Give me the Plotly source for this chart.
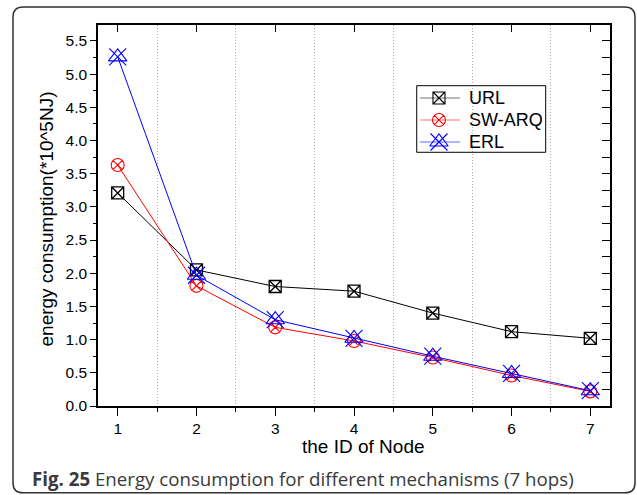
import plotly.graph_objects as go

# Energy consumption per node (units of 10^5 nJ)
node_ids = [1, 2, 3, 4, 5, 6, 7]
url_energy = [3.21, 2.05, 1.80, 1.73, 1.40, 1.12, 1.02]
swarq_energy = [3.63, 1.81, 1.185, 0.98, 0.73, 0.46, 0.22]
erl_energy = [5.26, 1.97, 1.30, 1.02, 0.75, 0.49, 0.23]
series_names = ["URL", "SW-ARQ", "ERL"]

x_range = [0.75, 7.25]
y_range = [0.0, 5.74]

BLACK = "#000000"
RED = "#ff0000"
BLUE = "#0000ff"
FONT = "Liberation Sans, Arial, sans-serif"

fig = go.Figure()

# data series
fig.add_trace(go.Scatter(
    x=node_ids, y=url_energy, mode="lines+markers", name=series_names[0],
    line=dict(color=BLACK, width=1),
    marker=dict(symbol="square-x-open", size=12, color=BLACK, line=dict(width=1.3)),
    cliponaxis=False, showlegend=False))
fig.add_trace(go.Scatter(
    x=node_ids, y=swarq_energy, mode="lines+markers", name=series_names[1],
    line=dict(color=RED, width=1),
    marker=dict(symbol="circle-x-open", size=13, color=RED, line=dict(width=1.1)),
    cliponaxis=False, showlegend=False))
fig.add_trace(go.Scatter(
    x=node_ids, y=erl_energy, mode="lines+markers", name=series_names[2],
    line=dict(color=BLUE, width=1),
    marker=dict(symbol="triangle-up-open", size=16, color=BLUE, line=dict(width=1.1)),
    cliponaxis=False, showlegend=False))
fig.add_trace(go.Scatter(
    x=node_ids, y=erl_energy, mode="markers", name=series_names[2],
    marker=dict(symbol="x-thin-open", size=17, color=BLUE, line=dict(width=1.1, color=BLUE)),
    cliponaxis=False, showlegend=False, hoverinfo="skip"))

# hand-drawn legend on a unit overlay axis
leg_rows = [0.8084, 0.7507, 0.6929]
leg_line = [0.6289, 0.707]
leg_mark_x = 0.666
leg_text_x = 0.720
leg_styles = [
    dict(color=BLACK, light="rgba(0,0,0,0.55)", symbols=[("square-x-open", 12)]),
    dict(color=RED, light="rgba(255,0,0,0.55)", symbols=[("circle-x-open", 13)]),
    dict(color=BLUE, light="rgba(0,0,255,0.6)", symbols=[("triangle-up-open", 16), ("x-thin-open", 17)]),
]
for name, yy, st in zip(series_names, leg_rows, leg_styles):
    fig.add_trace(go.Scatter(
        x=leg_line, y=[yy, yy], mode="lines", xaxis="x3", yaxis="y3",
        line=dict(color=st["light"], width=1.2), showlegend=False, hoverinfo="skip",
        cliponaxis=False))
    for sym, sz in st["symbols"]:
        fig.add_trace(go.Scatter(
            x=[leg_mark_x], y=[yy], mode="markers", xaxis="x3", yaxis="y3",
            marker=dict(symbol=sym, size=sz, color=st["color"],
                        line=dict(width=1.1, color=st["color"])),
            showlegend=False, hoverinfo="skip", cliponaxis=False))
    fig.add_annotation(x=leg_text_x, y=yy, xref="x3", yref="y3", text=name,
                       showarrow=False, xanchor="left", yanchor="middle",
                       font=dict(family=FONT, size=18, color=BLACK))

fig.add_shape(type="rect", xref="x3", yref="y3", x0=0.6225, x1=0.8744, y0=0.6659, y1=0.8407,
              line=dict(color=BLACK, width=1), fillcolor="rgba(0,0,0,0)", layer="above")

# outer rounded frame around figure and caption
fx0, fx1, fy0, fy1 = -0.166, 1.0488, -0.228, 1.047
rx, ry = 0.02, 0.026
frame_path = (
    f"M {fx0 + rx},{fy1} L {fx1 - rx},{fy1} Q {fx1},{fy1} {fx1},{fy1 - ry} "
    f"L {fx1},{fy0 + ry} Q {fx1},{fy0} {fx1 - rx},{fy0} "
    f"L {fx0 + rx},{fy0} Q {fx0},{fy0} {fx0},{fy0 + ry} "
    f"L {fx0},{fy1 - ry} Q {fx0},{fy1} {fx0 + rx},{fy1} Z"
)
fig.add_shape(type="path", xref="paper", yref="paper", path=frame_path,
              line=dict(color="#333333", width=1.5))

# axis titles
fig.add_annotation(x=(363.5 - 98) / 512, y=(406 - 446) / 381, xref="paper", yref="paper",
                   text="the ID of Node", showarrow=False, xanchor="center", yanchor="middle",
                   font=dict(family=FONT, size=19, color=BLACK))
fig.add_annotation(x=(46 - 98) / 512, y=(406 - 219.5) / 381, xref="paper", yref="paper",
                   text="energy consumption(*10^5NJ)", textangle=-90, showarrow=False,
                   xanchor="center", yanchor="middle",
                   font=dict(family=FONT, size=19, color=BLACK))

# caption
fig.add_annotation(x=(30 - 98) / 512, y=(406 - 478) / 381, xref="paper", yref="paper",
                   text="<b>Fig. 25</b> Energy consumption for different mechanisms (7 hops)",
                   showarrow=False, xanchor="left", yanchor="middle",
                   font=dict(family="Open Sans, sans-serif", size=18.7, color="#3a3a3a"))

fig.update_layout(
    width=637, height=495,
    margin=dict(l=98, r=27, t=25, b=89),
    paper_bgcolor="white", plot_bgcolor="white",
    showlegend=False,
    font=dict(family=FONT, size=15.5, color=BLACK),
    xaxis=dict(
        range=x_range, tick0=1, dtick=1, ticks="outside", ticklen=8, tickwidth=1.3,
        tickcolor=BLACK, showline=True, linecolor=BLACK, linewidth=1.5,
        showgrid=False, zeroline=False, tickfont=dict(family=FONT, size=15.5),
        automargin=False,
        minor=dict(dtick=0.5, ticks="outside", ticklen=4, tickwidth=1.3, tickcolor=BLACK,
                   showgrid=True, gridcolor="#b0b0b0", griddash="1px,2px", gridwidth=1),
    ),
    yaxis=dict(
        range=y_range, tick0=0, dtick=0.5, ticks="outside", ticklen=6, tickwidth=1.3,
        tickcolor=BLACK, showline=True, linecolor=BLACK, linewidth=1.5,
        showgrid=False, zeroline=False, tickformat=".1f", tickfont=dict(family=FONT, size=15.5),
        automargin=False,
        minor=dict(dtick=0.25, ticks="outside", ticklen=3, tickwidth=1.3, tickcolor=BLACK,
                   showgrid=False),
    ),
    xaxis2=dict(
        overlaying="x", side="top", range=x_range, tick0=1, dtick=1, ticks="inside",
        ticklen=7, tickwidth=1.3, tickcolor=BLACK, showline=True, linecolor=BLACK,
        linewidth=1.5, showticklabels=False, showgrid=False, zeroline=False,
    ),
    yaxis2=dict(
        overlaying="y", side="right", range=y_range, tick0=0, dtick=0.25, ticks="inside",
        ticklen=8, tickwidth=1.3, tickcolor=BLACK, showline=True, linecolor=BLACK,
        linewidth=1.5, showticklabels=False, showgrid=False, zeroline=False,
    ),
    xaxis3=dict(overlaying="x", range=[0, 1], visible=False, fixedrange=True),
    yaxis3=dict(overlaying="y", range=[0, 1], visible=False, fixedrange=True),
)

# anchor trace so the mirrored axes render
fig.add_trace(go.Scatter(x=[None], y=[None], xaxis="x2", yaxis="y2", showlegend=False,
                         hoverinfo="skip"))

fig.write_html("out.html")
